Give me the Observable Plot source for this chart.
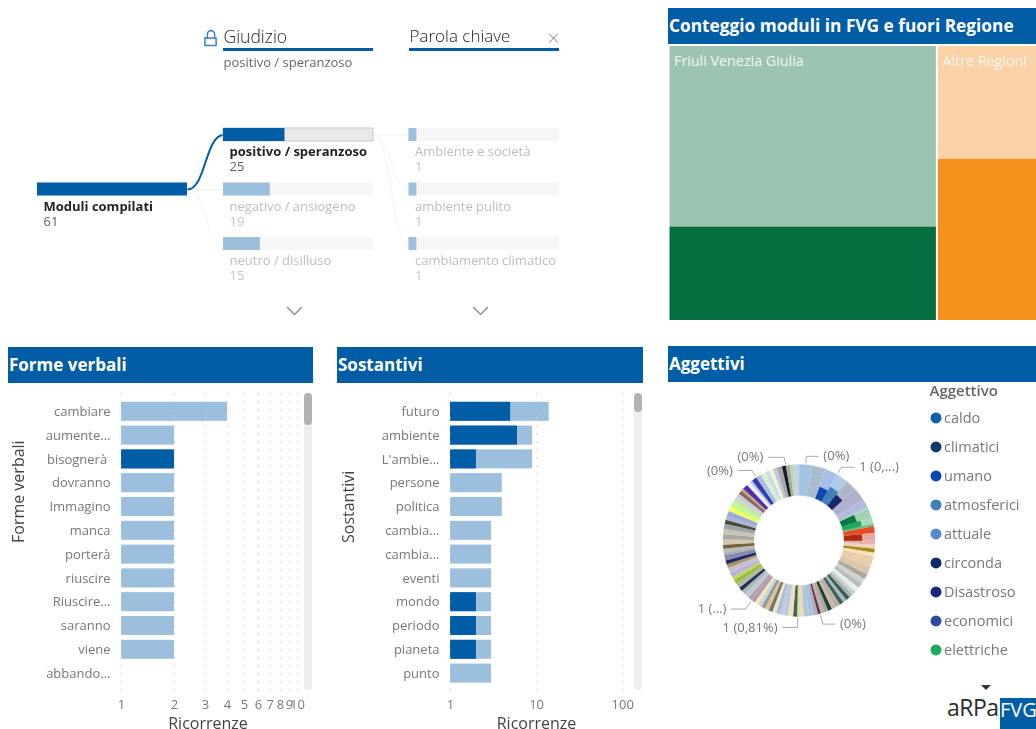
<!DOCTYPE html>
<html lang="it">
<head>
<meta charset="utf-8">
<title>Moduli compilati</title>
<script src="https://cdn.jsdelivr.net/npm/d3@7"></script>
<script src="https://cdn.jsdelivr.net/npm/@observablehq/plot@0.6"></script>
<style>
  html,body{margin:0;padding:0;background:#fff;}
  body{width:1036px;height:729px;overflow:hidden;position:relative;font-family:"Open Sans",sans-serif;}
  .panel{position:absolute;filter:blur(.3px);}
  .panel svg{display:block;background:transparent;}
  .head{position:absolute;background:#015da5;color:#fff;font-weight:700;font-size:17px;line-height:36px;height:36px;padding-left:1px;box-sizing:border-box;white-space:nowrap;overflow:hidden;}
  .track{position:absolute;background:#eeeeee;border-radius:4px;width:8px;}
  .thumb{position:absolute;background:#b2b2b2;border-radius:4px;width:8px;}
</style>
</head>
<body>
<div id="tree" class="panel" style="left:0;top:0"></div>
<div class="head" style="left:668px;top:8px;width:368px;font-size:17.3px;">Conteggio moduli in FVG e fuori Regione</div>
<div id="map" class="panel" style="left:668px;top:46px"></div>
<div class="head" style="left:8px;top:347px;width:305px;">Forme verbali</div>
<div id="verbi" class="panel" style="left:0;top:385px"></div>
<div class="track" style="left:304px;top:393px;height:297px"></div>
<div class="thumb" style="left:304px;top:393px;height:32px"></div>
<div class="head" style="left:337px;top:347px;width:306px;">Sostantivi</div>
<div id="nomi" class="panel" style="left:330px;top:385px"></div>
<div class="track" style="left:634px;top:393px;height:297px"></div>
<div class="thumb" style="left:634px;top:393px;height:19px"></div>
<div id="donut" class="panel" style="left:668px;top:390px;filter:blur(.55px)"></div>
<div id="legend" class="panel" style="left:920px;top:375px"></div>
<div class="head" style="left:668px;top:346px;width:368px;">Aggettivi</div>
<div style="position:absolute;left:981px;top:685px;width:0;height:0;border-left:5px solid transparent;border-right:5px solid transparent;border-top:5px solid #333;"></div>
<div style="position:absolute;left:947px;top:692px;font:400 23px/30px 'Open Sans',sans-serif;color:#2b2b2b;letter-spacing:-.5px;">aRPa</div>
<div style="position:absolute;left:1000px;top:698px;width:36px;height:31px;background:#015da5;color:#fff;font:400 20px/24px 'Liberation Sans Narrow','Open Sans',sans-serif;text-align:center;">FVG</div>
<script>
// ---- data ----
const rootLabel = "Moduli compilati";
const rootValue = 61;
const giudizioLabels = ["positivo / speranzoso", "negativo / ansiogeno", "neutro / disilluso"];
const giudizioValues = [25, 19, 15];
const parolaLabels = ["Ambiente e società", "ambiente pulito", "cambiamento climatico"];
const parolaValues = [1, 1, 1];
const parolaMax = 19;

const regionLabels = ["Friuli Venezia Giulia", "Altre Regioni"];
const regionTotals = [44, 17];
const regionSelected = [15, 10];

const verbiLabels = ["cambiare", "aumente...", "bisognerà\u00a0", "dovranno", "Immagino", "manca", "porterà", "riuscire", "Riuscire...", "saranno", "viene", "abbando..."];
const verbiValues = [4, 2, 2, 2, 2, 2, 2, 2, 2, 2, 2, 1];
const verbiSelected = [0, 0, 2, 0, 0, 0, 0, 0, 0, 0, 0, 0];
const verbiTicks = [1, 2, 3, 4, 5, 6, 7, 8, 9, 10];

const nomiLabels = ["futuro", "ambiente", "L'ambie...", "persone", "politica", "cambia...", "cambia...", "eventi", "mondo", "periodo", "pianeta", "punto"];
const nomiValues = [14, 9, 9, 4, 4, 3, 3, 3, 3, 3, 3, 3];
const nomiSelected = [5, 6, 2, 0, 0, 0, 0, 0, 2, 2, 2, 0];
const nomiTicks = [1, 10, 100];

const legendLabels = ["caldo", "climatici", "umano", "atmosferici", "attuale", "circonda", "Disastroso", "economici", "elettriche"];
const legendColors = ["#0f5fb0", "#0f3a66", "#0f45b0", "#3f80b8", "#4f8ec8", "#14296b", "#1a2a7a", "#2f4a9c", "#1fa860"];

// donut, clockwise from the top
const sliceWeights = [10,10,1,9,9,8,10,7,1,7,5,2,5,6,3,
  3,3,3,8,6,4,4,4,4,3,3,3,3,3,4,3,3,3,3,2,3,4,4,3,2,
  3,4,3,3,3,3,3,3,3,3,3,3,3,4,3,3,4,3,3,3,4,3,3,4,2,3,3,4,
  4,4,4,3,3,4,4,4,4,3,3,2,4,3,2,4,4,4,3,3,3,4,3,3,3,4];
const sliceColors = ["#a0c4e0","#a8bccb","#a6bfea","#a6bfea","#aecce6","#b0b4c8","#aeb0cc","#b3bce0","#a8dcc0","#a4d0b5","#a5dcbb","#6cbc88","#ea4b25","#e8a8a0","#e8b4b0",
  "#f0d4b8","#a68c22","#f7e4b4","#e8ceaa","#dcc5a8","#aaa79c","#cfd3cf","#b8bcb8","#e8ece8","#c6d0cc","#a8b0b0","#2f5f5c","#a8b8b8","#3a5f5a","#b8b0a8","#c8b8a8","#1f3f30","#a8a8a0","#c0b0a8","#5a2f4a","#b8a8b8","#a8c4dc","#a9c8e0","#f0d8b0","#c8e098",
  "#4a5f50","#f2e0b8","#b0cce4","#c8c4e4","#a4c0d8","#f0e4c0","#6a7a78","#e8c088","#8f9aa8","#c4d8d0","#f2e4c0","#b898a8","#b0a0b0","#c0c8d0","#a8b8c0","#22324a","#b0b8a8","#98c028","#c0d080","#b8b0d8","#c8c0d8","#b09860","#1f2a6a","#8a8ab0","#a4acb4","#b8bcb8","#7a5f3a","#d0c8a8",
  "#a8a8a4","#c8c4b0","#a0a4a4","#454a40","#b0b4c8","#98a8e0","#f2ff60","#b8ff90","#c8e0b0","#c8c8e8","#8f6a50","#c0a880","#5030b0","#f0f0ff","#c0c8f0","#3040a8","#b0bce8","#d8f0c8","#c8d8f0","#f0f8c8","#c0c4e0","#a8a8a8","#1a1a2a","#a8a8a8","#b0e0a8","#c8d0e8"];
// slice index -> [dark colour of the selected share, share of the ring]
const sliceSelected = {3:["#1048b4",.4], 4:["#3f80b8",.55], 5:["#14296b",.45], 9:["#0a7a42",.5], 10:["#1fa860",.62], 13:["#ab2a10",.58]};
const donutLabels = ["(0%)", "1 (0,...)", "(0%)", "(0%)", "1 (...)", "1 (0,81%)", "(0%)"];
const donutLabelAngles = [5, 30, 350, 326, 218, 181, 164];
const donutLabelSides = [1, 1, -1, -1, -1, -1, 1];
const donutLabelRadii = [84.5, 84.5, 84.5, 84.5, 87, 87, 87];
const donutLeaderLengths = [12, 13, 16, 14, 14, 15, 12];

// ---- shared style ----
const blue = "#015da5", pale = "#9bbfdd", muted = "#777777", ink = "#444444";
const font = "'Open Sans', sans-serif";
const put = (id, plot) => document.getElementById(id).appendChild(plot);

// ---- decomposition tree ----
const colX = [37, 223, 408.5], colW = 150, rowY = [128, 182.5, 237], barH = 13;
const nodes = [
  {label: rootLabel, value: rootValue, col: 0, row: 1, max: rootValue, on: true},
  ...giudizioLabels.map((label, i) => ({label, value: giudizioValues[i], col: 1, row: i, max: rootValue, on: i === 0})),
  ...parolaLabels.map((label, i) => ({label, value: parolaValues[i], col: 2, row: i, max: parolaMax, on: false}))
];
const links = [
  ...giudizioLabels.map((_, i) => ({a: colX[0] + colW, ay: rowY[1] + barH / 2, b: colX[1], by: rowY[i] + barH / 2, on: i === 0})),
  ...parolaLabels.map((_, i) => ({a: colX[1] + colW, ay: rowY[0] + barH / 2, b: colX[2], by: rowY[i] + barH / 2, on: false}))
];
const headers = [{t: "Giudizio", x: colX[1]}, {t: "Parola chiave", x: colX[2] + .5}];
const chevrons = [294, 480].flatMap(c => [-7, 0, 7].map((d, i) => ({x: c + d, y: i === 1 ? 314 : 307, c})));
const lockArc = d3.range(0, 1.01, .125).map(t => ({x: 210.5 + 3.6 * Math.cos(Math.PI * (1 - t)), y: 33.6 - 3.6 * Math.sin(Math.PI * t)}));
const lockSides = [{x: 206.9, y: 38}, ...lockArc, {x: 214.1, y: 38}];
const labelX = d => colX[d.col] + 6, labelY = d => rowY[d.row] + 23.5, valueY = d => rowY[d.row] + 38.5;
put("tree", Plot.plot({
  width: 660, height: 330, margin: 0,
  x: {domain: [0, 660], range: [0, 660], axis: null},
  y: {domain: [0, 330], range: [0, 330], axis: null},
  color: {type: "identity"},
  style: {fontFamily: font, background: "transparent"},
  marks: [
    Plot.link(links.filter(d => !d.on), {x1: "a", y1: "ay", x2: "b", y2: "by", curve: "bump-x", stroke: "#f1f1f1", strokeWidth: 1}),
    Plot.link(links.filter(d => d.on), {x1: "a", y1: "ay", x2: "b", y2: "by", curve: "bump-x", stroke: blue, strokeWidth: 2}),
    Plot.rect(nodes, {x1: d => colX[d.col], x2: d => colX[d.col] + colW, y1: d => rowY[d.row], y2: d => rowY[d.row] + barH,
      fill: d => d.col === 1 && d.on ? "#e9e9e9" : "#f6f6f6", stroke: d => d.col === 1 && d.on ? "#c9c9c9" : "none"}),
    Plot.rect(nodes, {x1: d => colX[d.col], x2: d => colX[d.col] + colW * d.value / d.max, y1: d => rowY[d.row], y2: d => rowY[d.row] + barH,
      fill: d => d.on ? blue : pale}),
    Plot.text(nodes.filter(d => d.on), {x: labelX, y: labelY, text: "label", textAnchor: "start", fontSize: 13, fontWeight: 700, fill: "#252423"}),
    Plot.text(nodes.filter(d => !d.on), {x: labelX, y: labelY, text: "label", textAnchor: "start", fontSize: 13, fill: "#bdbdbd"}),
    Plot.text(nodes, {x: labelX, y: valueY, text: "value", textAnchor: "start", fontSize: 13, fill: d => d.on ? "#605e5c" : "#c4c4c4"}),
    Plot.text(headers.slice(0, 1), {x: "x", y: 36.5, text: "t", textAnchor: "start", fontSize: 17.5, fontWeight: 300, fill: "#252423"}),
    Plot.text(headers.slice(1), {x: "x", y: 36.5, text: "t", textAnchor: "start", fontSize: 17, fontWeight: 300, fill: "#252423"}),
    Plot.rect(headers, {x1: d => d.x, x2: d => d.x + colW, y1: 48, y2: 51, fill: blue}),
    Plot.text([giudizioLabels[0]], {x: colX[1], y: 62, text: d => d, textAnchor: "start", fontSize: 13, fill: "#666666"}),
    Plot.text(["×"], {x: 553, y: 38.5, text: d => d, fontSize: 22, fontWeight: 300, fill: "#9a9a9a"}),
    Plot.line(chevrons, {x: "x", y: "y", z: "c", stroke: "#8a8a8a", strokeWidth: 1.4}),
    Plot.rect([0], {x1: 204.9, x2: 216.1, y1: 38, y2: 45.5, stroke: "#3f7fbf", strokeWidth: 1.5, fill: "white"}),
    Plot.line(lockSides, {x: "x", y: "y", stroke: "#3f7fbf", strokeWidth: 1.5})
  ]
}));

// ---- treemap ----
const unit = 6.10;
const regionStart = [0, regionTotals[0]];
const mapCells = regionLabels.flatMap((label, i) => [
  {label, x1: regionStart[i], x2: regionStart[i] + regionTotals[i], y1: regionSelected[i] / regionTotals[i], y2: 1, fill: ["#9dc4b0", "#f9d3a6"][i]},
  {label, x1: regionStart[i], x2: regionStart[i] + regionTotals[i], y1: 0, y2: regionSelected[i] / regionTotals[i], fill: ["#056e3e", "#f5921e"][i]}
]);
put("map", Plot.plot({
  width: 368, height: 274, margin: 0,
  x: {domain: [0, 61], range: [.5, .5 + 61 * unit], axis: null},
  y: {domain: [0, 1], range: [274, 0], axis: null},
  color: {type: "identity"},
  style: {fontFamily: font, background: "transparent"},
  marks: [
    Plot.rect(mapCells, {x1: "x1", x2: "x2", y1: "y1", y2: "y2", fill: "fill", insetRight: 1, insetLeft: 1}),
    Plot.text(regionLabels, {x: (d, i) => regionStart[i], y: 1, dx: 5, dy: 15, text: d => d, textAnchor: "start", fontSize: 14.3, fill: "#eef6f1"})
  ]
}));

// ---- bar panels ----
function barPanel(id, title, labels, values, selected, ticks, xMax, x0, x1, marginRight, titleDx) {
  const rows = labels.map((label, i) => ({i, label, value: values[i], sel: selected[i]}));
  return put(id, Plot.plot({
    width: 330, height: 344,
    marginLeft: x0, marginRight, marginTop: 8, marginBottom: 37,
    x: {type: "log", domain: [1, xMax], range: [x0, x1]},
    y: {type: "band", domain: d3.range(labels.length), range: [14.4, 300], paddingInner: .2, paddingOuter: .1, round: false},
    style: {fontFamily: font, fontSize: "13px", color: muted, background: "transparent"},
    marks: [
      Plot.ruleX(ticks, {stroke: "#bdbdbd", strokeDasharray: "1.5,6.5", strokeWidth: 1.2}),
      Plot.barX(rows.filter(d => d.value > 1), {x1: () => 1, x2: "value", y: "i", fill: pale}),
      Plot.barX(rows.filter(d => d.sel > 1), {x1: () => 1, x2: "sel", y: "i", fill: blue}),
      Plot.ruleX(ticks, {stroke: "#ffffff", strokeOpacity: .35, strokeDasharray: "1.5,6.5", strokeWidth: 1.2}),
      Plot.axisX({ticks, tickSize: 0, tickPadding: 7, label: null, tickFormat: d => String(d), anchor: "bottom", fill: muted}),
      Plot.axisY({ticks: d3.range(labels.length), tickSize: 0, tickPadding: 11, label: null, tickFormat: i => labels[i], fill: muted}),
      Plot.text(["Ricorrenze"], {frameAnchor: "bottom", dy: 31, lineAnchor: "middle", text: d => d, fontSize: 16, fill: ink}),
      Plot.text([title], {frameAnchor: "left", dx: titleDx, rotate: -90, lineAnchor: "middle", text: d => d, fontSize: 16, fill: ink})
    ]
  }));
}
barPanel("verbi", "Forme verbali", verbiLabels, verbiValues, verbiSelected, verbiTicks, 10.4, 121, 300, 36, -103);
barPanel("nomi", "Sostantivi", nomiLabels, nomiValues, nomiSelected, nomiTicks, 105, 120, 294, 38, -102);

// ---- donut ----
const R0 = 45, R1 = 76;
const polar = (a, r) => ({x: r * Math.sin(a), y: -r * Math.cos(a)});
const pie = d3.pie().sort(null)(sliceWeights);
const wedge = (id, a0, a1, r0, r1, color) => {
  const n = Math.max(2, Math.ceil((a1 - a0) / .02));
  const t = d3.range(n + 1).map(k => a0 + (a1 - a0) * k / n);
  return [...t.map(a => polar(a, r1)), ...t.reverse().map(a => polar(a, r0))].map(p => ({...p, id, color}));
};
const ring = pie.flatMap((s, i) => wedge("s" + i, s.startAngle, s.endAngle, R0, R1, sliceColors[i]));
const inner = pie.flatMap((s, i) => sliceSelected[i] ? wedge("h" + i, s.startAngle, s.endAngle, R0, R0 + (R1 - R0) * sliceSelected[i][1], sliceSelected[i][0]) : []);
const rad = d => d * Math.PI / 180;
const leaders = donutLabels.flatMap((t, i) => {
  const a = rad(donutLabelAngles[i]), e = polar(a, donutLabelRadii[i]), s = polar(a, 78);
  return [s, e, {x: e.x + donutLabelSides[i] * donutLeaderLengths[i], y: e.y}].map(p => ({...p, i}));
});
const leaderEnds = donutLabels.map((text, i) => {
  const e = polar(rad(donutLabelAngles[i]), donutLabelRadii[i]);
  return {text, x: e.x + donutLabelSides[i] * (donutLeaderLengths[i] + 5), y: e.y, anchor: donutLabelSides[i] > 0 ? "start" : "end"};
});
put("donut", Plot.plot({
  width: 260, height: 300, margin: 0,
  x: {domain: [-130.5, 129.5], range: [0, 260], axis: null},
  y: {domain: [-150, 150], range: [0, 300], axis: null},
  color: {type: "identity"},
  style: {fontFamily: font, background: "transparent"},
  marks: [
    Plot.line(ring, {x: "x", y: "y", z: "id", fill: "color", stroke: "color", strokeWidth: .3}),
    Plot.line(inner, {x: "x", y: "y", z: "id", fill: "color", stroke: "color", strokeWidth: .3}),
    Plot.line(leaders, {x: "x", y: "y", z: "i", stroke: "#aaaaaa", strokeWidth: 1}),
    Plot.text(leaderEnds.filter(d => d.anchor === "start"), {x: "x", y: "y", text: "text", textAnchor: "start", fontSize: 13, fill: muted}),
    Plot.text(leaderEnds.filter(d => d.anchor === "end"), {x: "x", y: "y", text: "text", textAnchor: "end", fontSize: 13, fill: muted})
  ]
}));

// ---- legend ----
put("legend", Plot.plot({
  width: 116, height: 292, margin: 0,
  x: {domain: [0, 116], range: [0, 116], axis: null},
  y: {domain: [0, legendLabels.length - 1], range: [42.4, 274.4], axis: null},
  color: {type: "identity"},
  style: {fontFamily: font, background: "transparent"},
  marks: [
    Plot.text(["Aggettivo"], {frameAnchor: "top-left", dx: 9, dy: 10, text: d => d, textAnchor: "start", fontSize: 15, fontWeight: 600, fill: "#666666"}),
    Plot.dot(legendLabels, {x: () => 15.5, y: (d, i) => i, r: 5.5, fill: (d, i) => legendColors[i]}),
    Plot.text(legendLabels, {x: () => 23.5, y: (d, i) => i, text: d => d, textAnchor: "start", fontSize: 14.5, fill: muted})
  ]
}));
</script>
</body>
</html>
